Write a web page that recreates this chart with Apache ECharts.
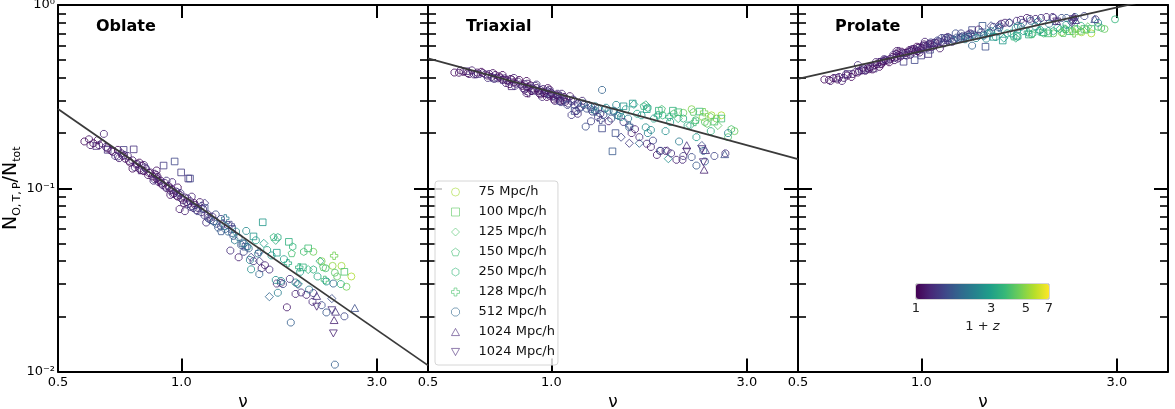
<!DOCTYPE html>
<html><head><meta charset="utf-8">
<script src="https://cdn.jsdelivr.net/npm/echarts@6/dist/echarts.min.js"></script>
<style>html,body{margin:0;padding:0;background:#fff}#c{width:1175px;height:409px}</style>
</head><body><div id="c"></div><script>
// ---------- DATA ----------
const boxKeys   = ['b75','b100','b125','b150','b250','b128','b512','b1024a','b1024b'];
const boxLabels = ['75 Mpc/h','100 Mpc/h','125 Mpc/h','150 Mpc/h','250 Mpc/h','128 Mpc/h','512 Mpc/h','1024 Mpc/h','1024 Mpc/h'];
const boxMarkers = ['o','s','D','p','h','P','8','^','v'];
const boxLegendColors = ['#a5db36','#5ec962','#4ec36b','#40bd72','#35b779','#4ac16d','#31688e','#482878','#482878'];
const panelTitles = ['Oblate','Triaxial','Prolate'];

// rows: [nu, 1+z, N_O/N_tot, N_T/N_tot, N_P/N_tot]
const box75 = [
 [2.34,5.0,0.0377,0.245,0.72],[2.46,5.3,0.0377,0.25,0.71],[2.53,4.6,0.029,0.24,0.73],
 [2.37,4.2,0.0346,0.23,0.74],[2.25,3.9,0.0366,0.235,0.735],[2.60,5.5,0.033,0.25,0.70],
 [2.20,4.8,0.040,0.27,0.71],[2.80,4.4,null,0.205,0.74],[2.97,3.6,null,null,0.835],
 [2.70,4.0,null,0.19,0.76],[2.10,4.5,0.045,0.258,0.70]
];
const box100 = [
 [0.661,1.30,0.162,0.42,0.42],[0.723,1.40,0.162,0.40,0.44],[0.765,1.30,0.163,0.39,0.45],
 [0.905,1.40,0.133,0.34,0.49],[0.963,1.50,0.140,0.33,0.50],[0.999,1.40,0.122,0.325,0.53],
 [1.040,1.30,0.113,0.32,0.54],[1.050,1.50,0.113,0.30,0.57],[1.140,1.60,0.078,0.264,0.66],
 [1.330,1.50,0.060,0.212,0.73],[1.410,1.70,0.050,0.159,0.77],[1.434,1.60,0.048,0.20,0.592],
 [0.800,1.20,0.125,0.36,0.49],[0.620,1.25,0.170,0.435,0.400],[1.580,2.80,0.0652,0.29,0.64],
 [1.500,2.70,0.0546,0.28,0.67],[1.710,3.00,0.0445,0.27,0.68],[1.830,3.40,0.051,0.265,0.69],
 [2.040,3.80,0.047,0.26,0.70],[1.980,3.50,0.037,0.265,0.71],[2.500,4.00,0.035,0.231,0.74],
 [2.300,3.60,null,0.262,0.72],[2.600,3.80,null,0.24,0.74]
];
const box125 = [
 [1.59,3.0,0.050,0.287,0.66],[1.64,1.9,0.0256,0.176,0.80],[2.04,3.6,0.036,0.24,0.72],
 [1.55,1.4,0.040,0.176,0.78],[1.92,1.3,0.030,0.16,0.81],[0.98,1.3,0.095,0.34,0.56],
 [1.14,1.4,0.083,0.30,0.62],[2.33,1.6,0.025,0.171,0.80],[1.48,1.5,0.042,0.19,0.77],
 [2.18,3.3,0.040,0.22,0.74],[1.93,2.6,0.030,0.145,0.82],[1.70,3.4,0.052,0.285,0.66],
 [2.55,4.2,null,0.22,0.76]
];
const box150 = [
 [1.68,3.6,0.054,0.28,0.67],[1.86,3.9,0.044,0.27,0.69],[1.45,2.4,0.048,0.25,0.70],
 [2.22,4.2,0.037,0.26,0.70],[1.25,1.7,0.058,0.27,0.67],[2.45,4.5,null,0.245,0.72]
];
const box250 = [
 [1.72,3.3,0.054,0.275,0.67],[1.87,3.6,0.048,0.25,0.70],[1.99,3.9,0.045,0.255,0.70],
 [1.35,2.2,0.052,0.27,0.68],[2.10,3.4,0.036,0.24,0.72],[2.40,4.3,0.033,0.225,0.74],
 [2.75,4.0,null,0.21,0.75]
];
const box128 = [
 [1.28,2.2,0.0685,0.262,0.67],[1.82,3.3,0.039,0.25,0.71],[1.94,3.5,0.037,0.245,0.72],
 [2.36,4.6,0.0428,0.26,0.70],[2.24,3.8,0.0316,0.23,0.74],[1.32,1.5,0.063,0.236,0.69],
 [1.55,1.6,0.045,0.22,0.76],[0.88,1.2,0.110,0.33,0.56]
];
const box512 = [
 [0.580,1.05,0.180,0.428,0.392],[0.595,1.10,0.185,0.427,0.390],[0.610,1.02,0.176,0.432,0.398],
 [0.630,1.15,0.172,0.420,0.405],[0.647,1.20,0.198,0.418,0.400],[0.660,1.08,0.165,0.428,0.412],
 [0.680,1.12,0.158,0.425,0.420],[0.690,1.25,0.150,0.418,0.430],[0.700,1.05,0.162,0.412,0.428],
 [0.715,1.18,0.155,0.405,0.440],[0.730,1.10,0.145,0.415,0.438],[0.740,1.22,0.150,0.398,0.452],
 [0.750,1.04,0.138,0.402,0.458],[0.760,1.15,0.142,0.392,0.462],[0.770,1.28,0.130,0.398,0.470],
 [0.780,1.08,0.136,0.388,0.475],[0.790,1.20,0.128,0.382,0.488],[0.800,1.12,0.133,0.392,0.478],
 [0.810,1.03,0.124,0.378,0.495],[0.820,1.25,0.128,0.372,0.500],[0.830,1.10,0.118,0.382,0.497],
 [0.840,1.16,0.122,0.368,0.508],[0.850,1.05,0.116,0.362,0.520],[0.860,1.30,0.112,0.370,0.515],
 [0.870,1.12,0.118,0.358,0.522],[0.880,1.20,0.108,0.355,0.535],[0.890,1.07,0.110,0.364,0.524],
 [0.900,1.18,0.104,0.350,0.545],[0.910,1.25,0.107,0.345,0.548],[0.920,1.10,0.100,0.352,0.548],
 [0.930,1.02,0.103,0.340,0.556],[0.940,1.22,0.097,0.344,0.560],[0.950,1.14,0.098,0.336,0.565],
 [0.960,1.06,0.094,0.330,0.575],[0.970,1.28,0.096,0.338,0.566],[0.980,1.12,0.090,0.326,0.584],
 [0.990,1.20,0.092,0.320,0.588],[1.000,1.08,0.088,0.330,0.582],[1.010,1.32,0.086,0.318,0.596],
 [1.020,1.15,0.089,0.312,0.600],[1.030,1.05,0.084,0.322,0.594],[1.040,1.24,0.082,0.308,0.610],
 [1.050,1.12,0.085,0.300,0.615],[1.060,1.35,0.080,0.312,0.608],[1.070,1.18,0.078,0.302,0.620],
 [1.080,1.08,0.081,0.296,0.623],[1.090,1.28,0.076,0.305,0.619],[1.100,1.40,0.078,0.290,0.632],
 [1.120,1.22,0.074,0.298,0.628],[1.140,1.45,0.071,0.284,0.645],[1.160,1.30,0.069,0.290,0.641],
 [1.180,1.55,0.067,0.278,0.655],[1.200,1.38,0.066,0.285,0.649],[1.220,1.60,0.064,0.272,0.664],
 [1.250,1.50,0.062,0.278,0.660],[1.280,1.70,0.060,0.266,0.674],
 [0.870,1.10,0.125,0.330,0.560],[0.990,1.15,0.077,0.345,0.550],[1.020,1.20,0.075,0.300,0.630],
 [0.760,1.05,0.128,0.415,0.445],[0.950,1.25,0.108,0.315,0.575],[1.150,1.30,0.065,0.264,0.660],
 [1.120,1.40,0.080,0.251,0.660],[1.213,1.60,0.072,0.217,0.700],[1.330,1.85,0.057,0.344,0.600],
 [0.640,1.18,0.176,0.440,0.385],[0.720,1.06,0.150,0.425,0.455],[0.810,1.20,0.134,0.400,0.505],
 [0.870,1.04,0.113,0.385,0.540],[0.920,1.30,0.110,0.368,0.530],[0.980,1.05,0.101,0.352,0.560],
 [1.060,1.22,0.090,0.328,0.590],[0.700,1.30,0.149,0.400,0.470],[0.790,1.03,0.138,0.370,0.460],
 [0.860,1.14,0.120,0.345,0.500],[0.940,1.08,0.092,0.325,0.535],[1.110,1.12,0.084,0.318,0.580],
 [0.600,1.15,0.172,0.440,0.385],[0.625,1.06,0.183,0.425,0.392],[0.655,1.22,0.168,0.418,0.418],
 [0.675,1.04,0.160,0.432,0.405],[0.705,1.16,0.146,0.420,0.436],[0.725,1.26,0.152,0.395,0.450],
 [0.745,1.08,0.141,0.408,0.446],[0.775,1.18,0.135,0.375,0.488],[0.795,1.06,0.126,0.395,0.475],
 [0.815,1.30,0.130,0.362,0.505],[0.835,1.02,0.121,0.390,0.487],[0.855,1.24,0.110,0.352,0.535],
 [0.875,1.14,0.115,0.372,0.510],[0.895,1.04,0.106,0.340,0.556],[0.915,1.32,0.102,0.362,0.534],
 [0.935,1.10,0.101,0.330,0.568],[0.955,1.26,0.093,0.348,0.555],[0.975,1.04,0.091,0.315,0.592],
 [0.995,1.36,0.094,0.335,0.571],[1.015,1.10,0.083,0.305,0.610],[1.035,1.28,0.088,0.328,0.585],
 [1.055,1.45,0.079,0.295,0.625],[1.075,1.12,0.083,0.315,0.600],[1.095,1.50,0.075,0.285,0.640],
 [1.130,1.35,0.077,0.305,0.618],[1.170,1.60,0.068,0.272,0.660],[1.190,1.25,0.070,0.300,0.630],
 [1.230,1.75,0.061,0.285,0.655],[1.260,1.40,0.064,0.262,0.675],[1.300,1.90,0.058,0.272,0.670],
 [1.340,1.60,0.055,0.252,0.690],[1.380,2.00,0.054,0.265,0.680],[1.400,1.70,0.049,0.240,0.710],
 [1.460,1.90,0.047,0.248,0.705],[1.540,2.20,0.044,0.240,0.715],[1.160,1.30,0.072,0.255,0.670],
 [1.250,1.45,0.068,0.232,0.700],[1.300,1.35,0.063,0.245,0.690],
 [1.317,1.30,0.0457,0.255,0.70],[1.380,1.20,0.042,0.232,0.735],[1.420,1.50,0.045,0.262,0.69],
 [1.470,2.40,0.0406,0.258,0.70],[1.440,2.50,0.0585,0.285,0.655],[1.570,1.20,0.0366,0.20,0.79],
 [1.640,1.30,0.036,0.19,0.80],[1.710,1.25,0.0302,0.175,0.82],[1.750,1.20,0.0305,0.168,0.83],
 [1.770,1.50,0.030,0.182,0.80],[1.810,1.15,0.0224,0.152,0.85],[1.850,1.80,0.0185,0.16,0.82],
 [1.900,1.20,0.0265,0.16,0.84],[1.960,1.30,0.027,0.155,0.85],[2.020,1.20,0.0262,0.143,0.86],
 [2.100,1.40,0.0268,0.15,0.85],[2.260,1.70,0.021,0.133,0.85],[2.350,1.90,0.0302,0.16,0.83],
 [2.370,1.80,0.0109,0.14,0.86],[1.720,2.30,0.0269,0.20,0.77],[1.700,2.60,0.0316,0.215,0.75],
 [1.750,2.50,0.0312,0.208,0.76],[1.900,2.60,0.0306,0.205,0.765],[1.480,2.60,0.0361,0.245,0.72],
 [2.260,2.80,0.031,0.19,0.78],[2.050,2.20,0.028,0.18,0.79],[1.550,1.90,0.034,0.215,0.75],
 [2.200,1.60,0.023,0.148,0.85],[1.200,2.00,0.066,0.29,0.64],[1.280,2.30,0.062,0.28,0.65],
 [1.360,2.50,0.058,0.275,0.66],[1.420,2.20,0.050,0.265,0.68],[1.520,2.90,0.052,0.27,0.67],
 [1.620,3.10,0.046,0.255,0.70],[1.660,2.70,0.043,0.25,0.70],[1.780,3.00,0.041,0.24,0.72],
 [1.950,2.90,0.035,0.23,0.73],[2.150,3.20,0.033,0.22,0.75],[2.450,3.40,0.030,0.205,0.77],
 [1.500,1.40,0.040,0.23,0.76],[1.600,1.20,0.038,0.21,0.80],[1.840,1.30,0.032,0.16,0.84],
 [2.090,1.25,0.024,0.143,0.86],[2.500,1.50,0.020,0.15,0.87],[2.660,1.30,null,0.155,0.835],
 [2.700,2.40,null,0.20,0.80]
];
const box1024a = [
 [2.14,1.3,0.0256,0.17,0.81],[2.36,1.2,0.0189,0.125,0.855],[2.65,1.6,0.022,0.152,0.83],
 [2.38,1.3,0.021,0.16,0.82]
];
const box1024b = [
 [2.14,1.2,0.0228,0.16,0.82],[2.33,1.3,0.0218,0.165,0.815],[2.35,1.2,0.0163,0.14,0.845]
];
const boxRows = [box75, box100, box125, box150, box250, box128, box512, box1024a, box1024b];

// fitted power-law lines (end points, nu -> fraction)
const fitOblate   = [[0.5, 0.271], [4.0, 0.0108]];
const fitTriaxial = [[0.5, 0.512], [4.0, 0.144]];
const fitProlate  = [[0.5, 0.395], [4.0, 1.12]];
const fitLines = [fitOblate, fitTriaxial, fitProlate];

const xRange = [0.5, 4.0];
const yRange = [0.01, 1];
const xTickValues = [0.5, 1.0, 3.0];
const yMajorTicks = [0.01, 0.1, 1];
const yMinorTicks = [0.02,0.03,0.04,0.05,0.06,0.07,0.08,0.09,0.2,0.3,0.4,0.5,0.6,0.7,0.8,0.9];
const cbarRange = [1, 7];
const cbarTicks = [1, 3, 5, 7];

// ---------- RENDER ----------
const FONT = 'DejaVu Sans';
const black = '#000';
const viridis = ['#440154','#482878','#3e4989','#31688e','#26828e','#1f9e89','#35b779','#6ece58','#b5de2b','#fde725'];

function poly(n, r, rot) {
  const a = [];
  for (let k = 0; k < n; k++) { const t = rot + 2 * Math.PI * k / n; a.push([r * Math.sin(t), -r * Math.cos(t)]); }
  return a;
}
function markerShape(kind) {
  switch (kind) {
    case 'o': return { circle: 3.5 };
    case '8': return poly(8, 3.7, Math.PI / 8);
    case 's': return [[-3.3,-3.3],[3.3,-3.3],[3.3,3.3],[-3.3,3.3]];
    case 'D': return poly(4, 4.1, 0);
    case 'p': return poly(5, 3.8, 0);
    case 'h': return poly(6, 3.7, 0);
    case 'P': { const a = 1.3, b = 3.7;
      return [[-a,-b],[a,-b],[a,-a],[b,-a],[b,a],[a,a],[a,b],[-a,b],[-a,a],[-b,a],[-b,-a],[-a,-a]]; }
    case '^': return [[0,-4.3],[3.9,2.7],[-3.9,2.7]];
    case 'v': return [[0,4.3],[3.9,-2.7],[-3.9,-2.7]];
  }
}
function legendIcon(kind) {
  const s = markerShape(kind);
  if (s.circle) return 'circle';
  return 'path://M' + s.map(p => p[0].toFixed(2) + ' ' + p[1].toFixed(2)).join(' L') + ' Z';
}
function makeRender(kind) {
  const shape = markerShape(kind);
  return function (params, api) {
    const p = api.coord([api.value(0), api.value(1)]);
    const style = { fill: 'none', stroke: api.visual('color'), lineWidth: 1, opacity: 0.8 };
    if (shape.circle) return { type: 'circle', shape: { cx: p[0], cy: p[1], r: shape.circle }, style };
    return { type: 'polygon', shape: { points: shape.map(q => [p[0] + q[0], p[1] + q[1]]) }, style };
  };
}

const gridLefts = [58, 428, 798];
const grids = gridLefts.map(l => ({ left: l, top: 5, width: 370, height: 366.5, containLabel: false, outerBoundsMode: 'none' }));
grids.push({ left: 916, top: 284, width: 133, height: 15, show: true, borderColor: '#aaa', borderWidth: 1,
  backgroundColor: 'transparent', containLabel: false, outerBoundsMode: 'none' });

const lx = xRange.map(v => Math.log10(v)), ly = yRange.map(v => Math.log10(v));
const noLine = { show: false, onZero: false };
const spine = { show: true, onZero: false, lineStyle: { color: black, width: 2 } };
const xAxes = [], yAxes = [];
const supMap = { '0': '10\u2070', '-1': '10\u207B\u00B9', '-2': '10\u207B\u00B2' };
const X_PER = 3, Y_PER = 5;
for (let p = 0; p < 3; p++) {
  // data axis (log) at bottom: line + labels + name
  xAxes.push({ gridIndex: p, type: 'log', logBase: 10, min: xRange[0], max: xRange[1], position: 'bottom',
    name: '\u03BD', nameLocation: 'middle', nameGap: 19,
    nameTextStyle: { fontSize: 17, fontFamily: FONT, color: black },
    axisLine: spine, axisTick: { show: false }, minorTick: { show: false }, splitLine: { show: false },
    axisLabel: { customValues: xTickValues, formatter: v => Number(v).toFixed(1), fontSize: 13, fontFamily: FONT, color: black, margin: 5 } });
  // tick-only axes in log10 space
  const xt = { show: true, inside: true, length: 13, lineStyle: { color: black, width: 2 }, customValues: xTickValues.slice(1).map(v => Math.log10(v)) };
  xAxes.push({ gridIndex: p, type: 'value', min: lx[0], max: lx[1], position: 'bottom', axisLine: noLine,
    axisTick: xt, axisLabel: { show: false }, splitLine: { show: false } });
  xAxes.push({ gridIndex: p, type: 'value', min: lx[0], max: lx[1], position: 'top', axisLine: spine,
    axisTick: xt, axisLabel: { show: false }, splitLine: { show: false } });

  // data axis (log) at left
  const yData = { gridIndex: p, type: 'log', logBase: 10, min: yRange[0], max: yRange[1], position: 'left',
    axisLine: spine, axisTick: { show: false }, minorTick: { show: false }, splitLine: { show: false },
    axisLabel: p === 0 ? { customValues: yMajorTicks, formatter: v => supMap[String(Math.round(Math.log10(v)))],
      fontSize: 13, fontFamily: FONT, color: black, margin: 3 } : { show: false } };
  if (p === 0) {
    yData.name = 'N{s|O,\u2009T,\u2009P}/N{s|tot}';
    yData.nameLocation = 'middle';
    yData.nameRotate = 90;
    yData.nameGap = 18;
    yData.nameTextStyle = { fontSize: 19, fontFamily: FONT, color: black, lineHeight: 22,
      rich: { s: { fontSize: 11, fontFamily: FONT, color: black, verticalAlign: 'bottom', lineHeight: 13 } } };
  }
  yAxes.push(yData);
  const yMaj = { show: true, inside: true, length: 14, lineStyle: { color: black, width: 2 }, customValues: yMajorTicks.map(v => Math.log10(v)) };
  const yMin = { show: true, inside: true, length: 8, lineStyle: { color: black, width: 1.6 }, customValues: yMinorTicks.map(v => Math.log10(v)) };
  yAxes.push({ gridIndex: p, type: 'value', min: ly[0], max: ly[1], position: 'left', axisLine: noLine, axisTick: yMaj, axisLabel: { show: false }, splitLine: { show: false } });
  yAxes.push({ gridIndex: p, type: 'value', min: ly[0], max: ly[1], position: 'left', axisLine: noLine, axisTick: yMin, axisLabel: { show: false }, splitLine: { show: false } });
  yAxes.push({ gridIndex: p, type: 'value', min: ly[0], max: ly[1], position: 'right', axisLine: spine, axisTick: yMaj, axisLabel: { show: false }, splitLine: { show: false } });
  yAxes.push({ gridIndex: p, type: 'value', min: ly[0], max: ly[1], position: 'right', axisLine: noLine, axisTick: yMin, axisLabel: { show: false }, splitLine: { show: false } });
}
// colourbar axis (log-scaled 1+z)
xAxes.push({ gridIndex: 3, type: 'value', min: Math.log10(cbarRange[0]), max: Math.log10(cbarRange[1]), position: 'bottom',
  axisLine: noLine, axisTick: { show: false }, splitLine: { show: false },
  axisLabel: { customValues: cbarTicks.map(v => Math.log10(v)), formatter: v => String(Math.round(Math.pow(10, v))),
    fontSize: 13, fontFamily: FONT, color: '#222', margin: 3 },
  name: '1 + {i|z}', nameLocation: 'middle', nameGap: 21,
  nameTextStyle: { fontSize: 13, fontFamily: FONT, color: '#222', rich: { i: { fontStyle: 'italic', fontSize: 13, fontFamily: FONT, color: '#222' } } } });
yAxes.push({ gridIndex: 3, type: 'value', show: false, min: 0, max: 1, axisLine: noLine });

const series = [];
const scatterIdx = [];
for (let p = 0; p < 3; p++) {
  boxRows.forEach((rows, b) => {
    scatterIdx.push(series.length);
    series.push({ type: 'custom', name: boxKeys[b], xAxisIndex: p * X_PER, yAxisIndex: p * Y_PER,
      renderItem: makeRender(boxMarkers[b]), encode: { x: 0, y: 1 },
      data: rows.filter(r => r[2 + p] != null).map(r => [r[0], r[2 + p], Math.log10(r[1])]), z: 2 });
  });
}
for (let p = 0; p < 3; p++) {
  series.push({ type: 'line', name: 'fit' + p, xAxisIndex: p * X_PER, yAxisIndex: p * Y_PER, data: fitLines[p],
    showSymbol: false, symbol: 'none', clip: true, silent: true,
    lineStyle: { color: '#3a3a3a', width: 1.8 }, z: 5 });
}

const option = {
  animation: false,
  backgroundColor: '#fff',
  textStyle: { fontFamily: FONT },
  grid: grids,
  xAxis: xAxes,
  yAxis: yAxes,
  title: panelTitles.map((t, i) => ({ text: t, left: [96, 466, 835][i], top: 19, padding: 0,
    textStyle: { fontSize: 16, fontWeight: 'bold', fontFamily: FONT, color: black } })),
  legend: { orient: 'vertical', left: 435, top: 181, padding: [3, 3, 5, 14], itemGap: 4, itemWidth: 8, itemHeight: 8,
    borderColor: '#d6d6d6', borderWidth: 1, borderRadius: 3, backgroundColor: 'rgba(255,255,255,0.8)', selectedMode: false,
    textStyle: { fontSize: 13, fontFamily: FONT, color: '#111', lineHeight: 16, padding: [0, 0, 0, 14] },
    formatter: name => boxLabels[boxKeys.indexOf(name)],
    data: boxKeys.map((k, i) => ({ name: k, icon: legendIcon(boxMarkers[i]),
      itemStyle: { color: 'none', borderColor: boxLegendColors[i], borderWidth: 1, opacity: 0.6 } })) },
  visualMap: { type: 'continuous', seriesIndex: scatterIdx, dimension: 2,
    min: Math.log10(cbarRange[0]), max: Math.log10(cbarRange[1]), orient: 'horizontal',
    left: 916, top: 284, itemWidth: 15, itemHeight: 133, padding: 0, calculable: false, text: null,
    showLabel: false, hoverLink: false, inRange: { color: viridis } },
  series
};
const chart = echarts.init(document.getElementById('c'), null, { renderer: 'canvas' });
chart.setOption(option);
</script></body></html>
